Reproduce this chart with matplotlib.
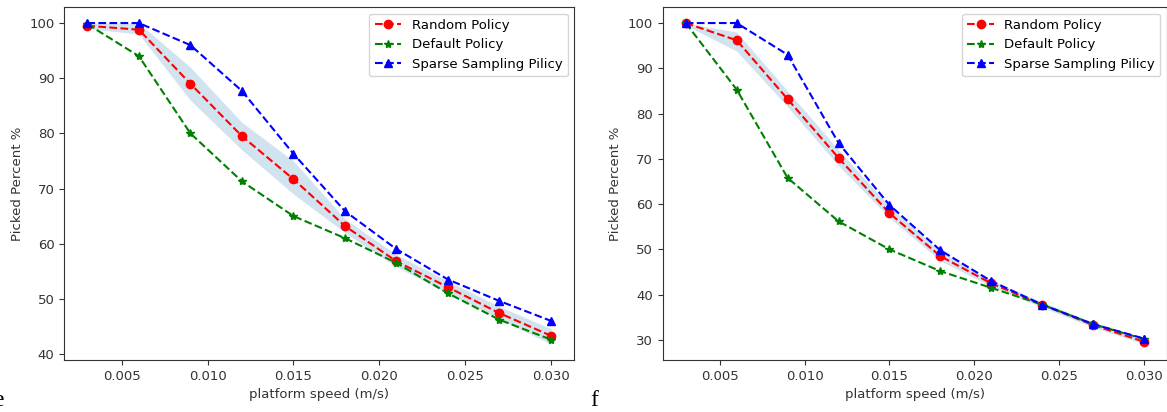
import numpy as np
import matplotlib
matplotlib.use("Agg")
import matplotlib.pyplot as plt

speed = [0.003, 0.006, 0.009, 0.012, 0.015, 0.018, 0.021, 0.024, 0.027, 0.030]

# panel e
random_e = [99.5, 98.8, 89.0, 79.5, 71.7, 63.2, 56.8, 52.1, 47.4, 43.3]
default_e = [99.8, 94.0, 80.0, 71.3, 65.0, 61.0, 56.5, 51.0, 46.2, 42.6]
sparse_e = [100.0, 100.0, 96.0, 87.7, 76.3, 65.9, 59.0, 53.5, 49.6, 46.0]
band_lo_e = [99.0, 98.0, 86.0, 77.0, 69.0, 62.0, 55.8, 51.0, 46.3, 41.8]
band_hi_e = [100.0, 100.0, 92.0, 82.0, 75.0, 64.5, 58.0, 53.2, 48.6, 44.6]

# panel f
random_f = [100.0, 96.2, 83.2, 70.2, 58.0, 48.5, 42.5, 37.8, 33.3, 29.6]
default_f = [100.0, 85.3, 65.8, 56.2, 50.0, 45.2, 41.5, 37.8, 33.5, 30.2]
sparse_f = [100.0, 100.0, 93.0, 73.5, 59.8, 49.8, 43.0, 37.8, 33.5, 30.3]
band_lo_f = [99.5, 93.8, 81.5, 68.5, 57.0, 47.5, 41.8, 37.2, 32.8, 29.1]
band_hi_f = [100.0, 98.0, 85.0, 72.0, 59.5, 49.5, 43.2, 38.4, 33.9, 30.3]

plt.rcParams['font.size'] = 9.5
plt.rcParams['font.family'] = 'DejaVu Sans'

fig = plt.figure(figsize=(11.67, 4.12), dpi=100)
ax1 = fig.add_axes([0.055, 0.126, 0.437, 0.857])
ax2 = fig.add_axes([0.568, 0.126, 0.432, 0.857])


def panel(ax, rnd, dft, sps, lo, hi):
    ax.fill_between(speed, lo, hi, color='#1f77b4', alpha=0.2, linewidth=0)
    ax.plot(speed, rnd, 'r--o', markersize=6, label='Random Policy')
    ax.plot(speed, dft, 'g--*', markersize=6, label='Default Policy')
    ax.plot(speed, sps, 'b--^', markersize=6, label='Sparse Sampling Pilicy')
    ax.set_xlabel('platform speed (m/s)', color='#333333')
    ax.set_ylabel('Picked Percent %', color='#333333')
    ax.set_xticks([0.005, 0.010, 0.015, 0.020, 0.025, 0.030])
    ax.set_xticklabels(['0.005', '0.010', '0.015', '0.020', '0.025', '0.030'])
    ax.tick_params(colors='#333333')
    for s in ax.spines.values():
        s.set_color('#333333')
    ax.legend(loc='upper right')


panel(ax1, random_e, default_e, sparse_e, band_lo_e, band_hi_e)
panel(ax2, random_f, default_f, sparse_f, band_lo_f, band_hi_f)
ax1.set_yticks([40, 50, 60, 70, 80, 90, 100])
ax2.set_yticks([30, 40, 50, 60, 70, 80, 90, 100])

# panel letters (the "e" sits at the left edge, partly outside, as in the source)
fig.text(-0.006, 0.015, 'e', family='Liberation Serif', fontsize=17)
fig.text(0.506, 0.015, 'f', family='Liberation Serif', fontsize=17)

fig.savefig('out.png', dpi=100)
